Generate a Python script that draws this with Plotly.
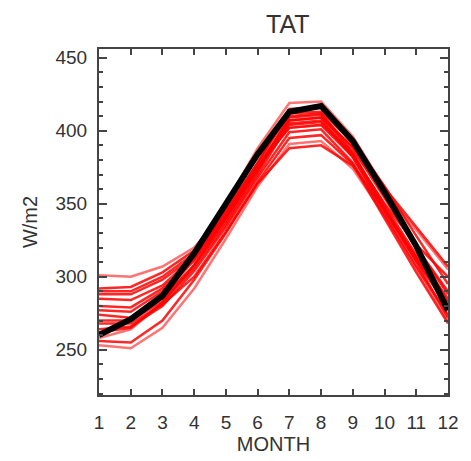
import plotly.graph_objects as go

months = list(range(1, 13))
month_labels = [str(m) for m in months]

# Ensemble members (W/m2), one list per member
member_01 = [301, 300, 307, 320, 345, 375, 402, 404, 386, 358, 332, 305]
member_02 = [290, 290, 300, 316, 343, 376, 407, 409, 389, 361, 334, 307]
member_03 = [288, 288, 298, 314, 342, 374, 404, 406, 383, 350, 322, 300]
member_04 = [280, 279, 292, 312, 341, 374, 409, 411, 388, 354, 320, 290]
member_05 = [274, 272, 285, 308, 338, 372, 410, 412, 385, 347, 313, 283]
member_06 = [270, 270, 283, 306, 336, 370, 405, 407, 382, 345, 311, 280]
member_07 = [264, 266, 280, 304, 334, 368, 399, 401, 378, 342, 307, 274]
member_08 = [253, 251, 265, 292, 326, 362, 391, 393, 374, 342, 306, 270]
member_09 = [256, 255, 270, 298, 330, 365, 395, 397, 377, 340, 303, 268]
member_10 = [258, 264, 282, 313, 350, 388, 419, 420, 396, 361, 322, 282]
member_11 = [285, 284, 294, 314, 344, 378, 412, 413, 392, 362, 328, 295]
member_12 = [277, 276, 290, 311, 340, 373, 407, 409, 384, 349, 315, 285]
member_13 = [262, 265, 282, 308, 340, 376, 402, 404, 382, 346, 310, 272]
member_14 = [292, 293, 303, 318, 346, 378, 415, 416, 391, 355, 320, 288]
member_15 = [268, 268, 281, 300, 331, 364, 388, 390, 376, 346, 313, 278]

# Reference climatology
reference = [260, 271, 287, 316, 350, 384, 413, 417, 393, 358, 321, 277]

members = [member_01, member_02, member_03, member_04, member_05,
           member_06, member_07, member_08, member_09, member_10,
           member_11, member_12, member_13, member_14, member_15]

fig = go.Figure()
for i, vals in enumerate(members):
    alpha = 0.55 if i in (0, 7, 9) else 0.85
    fig.add_trace(go.Scatter(
        x=months, y=vals, mode="lines",
        line=dict(color=f"rgba(255,0,0,{alpha})", width=2.5),
        showlegend=False, hoverinfo="skip"))

fig.add_trace(go.Scatter(
    x=months, y=reference, mode="lines",
    line=dict(color="black", width=6),
    showlegend=False))

axis_col = "#444444"
font_col = "#333333"

fig.update_layout(
    width=471, height=461,
    margin=dict(l=99, r=14, t=49, b=63),
    paper_bgcolor="white", plot_bgcolor="white",
    font=dict(family="Liberation Sans, Arial, sans-serif", color=font_col, size=19),
    title=dict(text="TAT", x=0.611, xanchor="center", y=0.948, yanchor="middle",
               font=dict(size=25, color=font_col)),
)

fig.update_xaxes(
    range=[1, 12], tickvals=months, ticktext=month_labels,
    showgrid=False, zeroline=False,
    showline=True, linecolor=axis_col, linewidth=2, mirror="ticks",
    ticks="inside", ticklen=6, tickwidth=2, tickcolor=axis_col,
    ticklabelstandoff=9,
    title=dict(text="MONTH", standoff=2, font=dict(size=20, color=font_col)),
)

fig.update_yaxes(
    range=[219, 456], tickvals=[250, 300, 350, 400, 450],
    showgrid=False, zeroline=False,
    showline=True, linecolor=axis_col, linewidth=2, mirror="ticks",
    ticks="inside", ticklen=8, tickwidth=2, tickcolor=axis_col,
    minor=dict(dtick=10, tick0=0, ticks="inside", ticklen=4, tickwidth=2,
               tickcolor=axis_col, showgrid=False),
    ticklabelstandoff=6,
    title=dict(text="W/m2", standoff=12, font=dict(size=20, color=font_col)),
)

fig.write_html("out.html")
